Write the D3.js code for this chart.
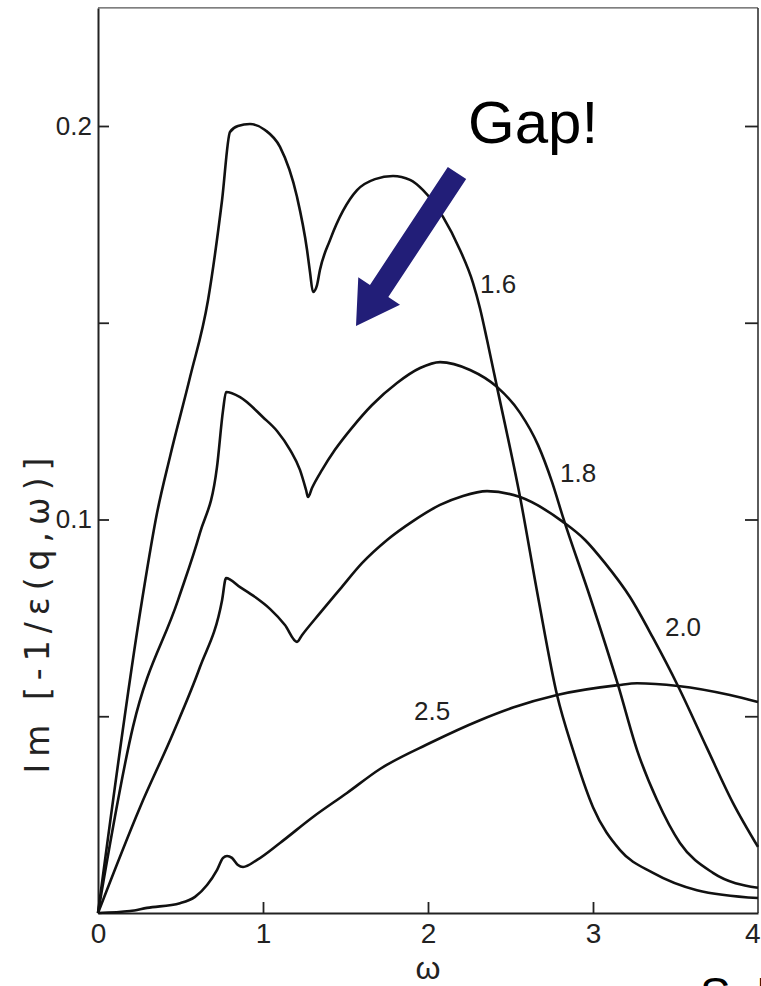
<!DOCTYPE html>
<html>
<head>
<meta charset="utf-8">
<script src="https://cdn.jsdelivr.net/npm/d3@7"></script>
<style>
  html, body { margin: 0; padding: 0; background: #fff; }
  svg { display: block; }
</style>
</head>
<body>
<svg id="chart" width="761" height="986"></svg>
<script>
// Loss function Im[-1/ε(q,ω)] versus ω for several wave vectors q.
// Each series is a list of [ω, value] pairs.
const q16 = [
  [0, 0], [0.267, 0.0795], [0.358, 0.1017], [0.436, 0.1159], [0.558, 0.1362],
  [0.667, 0.1558], [0.752, 0.1812], [0.800, 0.1985], [0.848, 0.2000], [0.921, 0.2005],
  [1.012, 0.1990], [1.103, 0.1947], [1.206, 0.1820], [1.267, 0.1685], [1.285, 0.1628],
  [1.303, 0.1578], [1.327, 0.1595], [1.345, 0.1634], [1.406, 0.1710], [1.570, 0.1837],
  [1.679, 0.1865], [1.788, 0.1873], [1.891, 0.1863], [1.970, 0.1837], [2.091, 0.1769],
  [2.194, 0.1685], [2.273, 0.1601], [2.315, 0.1537], [2.358, 0.1456], [2.418, 0.1337],
  [2.558, 0.1057], [2.667, 0.0803], [2.782, 0.0554], [2.879, 0.0414], [3.000, 0.0269],
  [3.164, 0.0160], [3.364, 0.0102], [3.630, 0.0058], [4.000, 0.0038]
];
const q18 = [
  [0, 0], [0.212, 0.0473], [0.485, 0.0795], [0.618, 0.0966], [0.721, 0.1133],
  [0.758, 0.1278], [0.776, 0.1324], [0.861, 0.1311], [1.000, 0.1260], [1.085, 0.1225],
  [1.164, 0.1177], [1.224, 0.1126], [1.261, 0.1075], [1.273, 0.1057], [1.297, 0.1080],
  [1.358, 0.1126], [1.436, 0.1177], [1.539, 0.1233], [1.661, 0.1291], [1.812, 0.1347],
  [1.952, 0.1385], [2.073, 0.1400], [2.255, 0.1380], [2.418, 0.1337], [2.558, 0.1271],
  [2.667, 0.1189], [2.752, 0.1095], [2.818, 0.1006], [2.982, 0.0803], [3.152, 0.0579],
  [3.267, 0.0414], [3.388, 0.0287], [3.527, 0.0178], [3.727, 0.0102], [4.000, 0.0064]
];
const q20 = [
  [0, 0], [0.255, 0.0269], [0.455, 0.0457], [0.618, 0.0625], [0.752, 0.0795],
  [0.776, 0.0851], [0.861, 0.0828], [0.952, 0.0803], [1.042, 0.0773], [1.133, 0.0732],
  [1.206, 0.0689], [1.236, 0.0706], [1.345, 0.0762], [1.467, 0.0823], [1.600, 0.0889],
  [1.752, 0.0948], [1.909, 0.0996], [2.073, 0.1037], [2.212, 0.1060], [2.358, 0.1072],
  [2.558, 0.1057], [2.818, 0.0994], [2.952, 0.0948], [3.073, 0.0889], [3.224, 0.0803],
  [3.364, 0.0699], [3.515, 0.0577], [3.691, 0.0419], [3.848, 0.0280], [4.000, 0.0168]
];
const q25 = [
  [0, 0], [0.194, 0.0005], [0.297, 0.0013], [0.497, 0.0025], [0.588, 0.0041],
  [0.661, 0.0071], [0.721, 0.0109], [0.758, 0.0140], [0.782, 0.0145], [0.812, 0.0140],
  [0.848, 0.0122], [0.879, 0.0117], [0.964, 0.0135], [1.103, 0.0178], [1.303, 0.0244],
  [1.509, 0.0305], [1.709, 0.0366], [2.012, 0.0432], [2.315, 0.0490], [2.515, 0.0522],
  [2.782, 0.0554], [3.152, 0.0579], [3.267, 0.0584], [3.515, 0.0577], [3.830, 0.0554],
  [4.000, 0.0536]
];

const seriesNames = ["1.6", "1.8", "2.0", "2.5"];
const seriesData = [q16, q18, q20, q25];
// Label anchor points for each curve, in data units [ω, value]
const labelAnchors = [[2.315, 0.1575], [2.800, 0.1096], [3.436, 0.0703], [1.915, 0.0490]];

const xTicks = [0, 1, 2, 3, 4];
const yTicks = [0.05, 0.1, 0.15, 0.2];
const yTickLabels = { 0.1: "0.1", 0.2: "0.2" };

const svg = d3.select("#chart");
const x = d3.scaleLinear().domain([0, 4]).range([98, 758]);
const y = d3.scaleLinear().domain([0, 0.23]).range([913, 7.95]);

const font = "'Liberation Sans', Arial, sans-serif";
const roundFont = "'DejaVu Sans', sans-serif";

// Frame: top and right borders (thin), left and bottom axes (heavier)
svg.append("line")
  .attr("x1", x(0)).attr("x2", x(4)).attr("y1", y(0.23)).attr("y2", y(0.23))
  .attr("stroke", "#555").attr("stroke-width", 1.2);
svg.append("line")
  .attr("x1", x(4)).attr("x2", x(4)).attr("y1", y(0.23)).attr("y2", y(0))
  .attr("stroke", "#333").attr("stroke-width", 1.6);

// Left axis with inward ticks
const leftAxis = svg.append("g")
  .attr("transform", `translate(${x(0)},0)`)
  .call(d3.axisLeft(y).tickValues(yTicks).tickSizeInner(-11).tickSizeOuter(0)
    .tickPadding(6).tickFormat(d => yTickLabels[d] || ""));
leftAxis.select(".domain").attr("stroke", "#222").attr("stroke-width", 2);
leftAxis.selectAll(".tick line").attr("stroke", "#222").attr("stroke-width", 1.8);
leftAxis.selectAll(".tick text")
  .attr("font-family", font).attr("font-size", 26).attr("fill", "#222");

// Right axis ticks pointing inward
const rightAxis = svg.append("g")
  .attr("transform", `translate(${x(4)},0)`)
  .call(d3.axisRight(y).tickValues(yTicks).tickSizeInner(-13).tickSizeOuter(0).tickFormat(""));
rightAxis.select(".domain").remove();
rightAxis.selectAll(".tick line").attr("stroke", "#222").attr("stroke-width", 1.8);

// Bottom axis
const bottomAxis = svg.append("g")
  .attr("transform", `translate(0,${y(0)})`)
  .call(d3.axisBottom(x).tickValues(xTicks).tickSizeInner(-11).tickSizeOuter(0)
    .tickPadding(10).tickFormat(d3.format("d")));
bottomAxis.select(".domain").attr("stroke", "#222").attr("stroke-width", 2.2);
bottomAxis.selectAll(".tick line").attr("stroke", "#222").attr("stroke-width", 1.8)
  .filter(d => d === 0 || d === 4).remove();
bottomAxis.selectAll(".tick text")
  .attr("font-family", font).attr("font-size", 28).attr("fill", "#222");
// keep the last label inside the drawing area
bottomAxis.selectAll(".tick text").filter(d => d === 4)
  .attr("text-anchor", "end").attr("dx", 2);

// Axis titles
svg.append("text")
  .attr("x", x(2)).attr("y", 979)
  .attr("text-anchor", "middle")
  .attr("font-family", font).attr("font-size", 32).attr("fill", "#222")
  .text("ω");

svg.append("text")
  .attr("transform", "translate(37,612) rotate(-90)")
  .attr("text-anchor", "middle")
  .attr("dominant-baseline", "central")
  .attr("font-family", roundFont).attr("font-size", 33).attr("fill", "#222")
  .attr("letter-spacing", 7)
  .text("Im [-1/ε(q,ω)]");

// Curves
const line = d3.line()
  .x(d => x(d[0]))
  .y(d => y(d[1]))
  .curve(d3.curveMonotoneX);

svg.append("g")
  .selectAll("path")
  .data(seriesData)
  .join("path")
  .attr("d", line)
  .attr("fill", "none")
  .attr("stroke", "#111")
  .attr("stroke-width", 2.6)
  .attr("stroke-linejoin", "round");

// Curve labels
svg.append("g")
  .selectAll("text")
  .data(seriesNames)
  .join("text")
  .attr("x", (d, i) => x(labelAnchors[i][0]))
  .attr("y", (d, i) => y(labelAnchors[i][1]))
  .attr("font-family", font).attr("font-size", 26).attr("fill", "#222")
  .text(d => d);

// Annotation: "Gap!" with an arrow pointing into the dip
svg.append("text")
  .attr("x", 468).attr("y", 143)
  .attr("font-family", font).attr("font-size", 60).attr("fill", "#000")
  .text("Gap!");

const tail = [457, 173], tip = [356, 326];
const dx = tip[0] - tail[0], dy = tip[1] - tail[1];
const len = Math.hypot(dx, dy);
const ux = dx / len, uy = dy / len;   // along the arrow
const nx = -uy, ny = ux;              // normal
const shaftHalf = 11, headHalf = 25, headLen = 42;
const base = [tip[0] - ux * headLen, tip[1] - uy * headLen];
const arrowPts = [
  [tail[0] + nx * shaftHalf, tail[1] + ny * shaftHalf],
  [base[0] + nx * shaftHalf, base[1] + ny * shaftHalf],
  [base[0] + nx * headHalf, base[1] + ny * headHalf],
  tip,
  [base[0] - nx * headHalf, base[1] - ny * headHalf],
  [base[0] - nx * shaftHalf, base[1] - ny * shaftHalf],
  [tail[0] - nx * shaftHalf, tail[1] - ny * shaftHalf]
];
svg.append("polygon")
  .attr("points", arrowPts.map(p => p.join(",")).join(" "))
  .attr("fill", "#221e78");

// Footer text running off the bottom edge
svg.append("text")
  .attr("x", 700).attr("y", 1010)
  .attr("font-family", font).attr("font-size", 46).attr("fill", "#000")
  .text("S. D");
</script>
</body>
</html>
